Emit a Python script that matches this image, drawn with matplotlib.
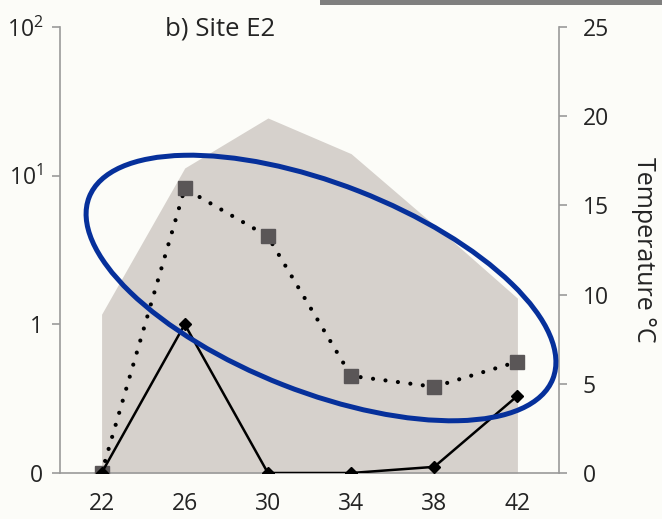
import numpy as np
import matplotlib
matplotlib.use("Agg")
import matplotlib.pyplot as plt
from matplotlib.patches import Ellipse, Rectangle
from matplotlib.ticker import FixedLocator, FixedFormatter

plt.rcParams["font.family"] = ["Open Sans", "DejaVu Sans"]
plt.rcParams["mathtext.fontset"] = "custom"
plt.rcParams["mathtext.rm"] = "Open Sans"
plt.rcParams["mathtext.it"] = "Open Sans"

# Sampling depths and measurements
depth = [22, 26, 30, 34, 38, 42]
temperature = [8.9, 17.1, 19.9, 17.9, 13.9, 9.8]
abundance_squares = [0, 8.2, 3.9, 0.45, 0.38, 0.56]
abundance_diamonds = [0, 1.0, 0, 0, 0.11, 0.33]

left_ticks = [0, 1, 10, 100]
left_labels = ["0", "1", r"$10^1$", r"$10^2$"]
right_ticks = [0, 5, 10, 15, 20, 25]

BG = "#fcfcf8"
TXT = "#242424"
SPINE = "#9a9a9a"

fig = plt.figure(figsize=(6.62, 5.19), dpi=100, facecolor=BG)
ax = fig.add_axes([60 / 662, 46 / 519, 499 / 662, 446 / 519])
ax2 = ax.twinx()
ax.set_zorder(2)
ax.patch.set_visible(False)
ax2.set_zorder(1)
ax2.patch.set_facecolor(BG)

# Temperature profile as a shaded area on the right axis
ax2.fill_between(depth, 0, temperature, color="#d6d1cc", lw=0)
ax2.set_ylim(0, 25)
ax2.set_yticks(right_ticks)
ax2.set_ylabel("Temperature °C", rotation=270, fontsize=18, color=TXT, labelpad=34)

# Abundances on a log axis where the bottom decade stands for zero
fwd = lambda v: np.log10(np.clip(v, 0.1, None))
inv = lambda v: 10.0 ** v
ax.set_yscale("function", functions=(fwd, inv))
ax.set_ylim(0, 100)
ax.set_xlim(20, 44)

ax.plot(depth, abundance_squares, color="black", lw=3.0,
        linestyle=(0, (0.01, 3.0)), dash_capstyle="round", zorder=3)
ax.plot(depth, abundance_squares, linestyle="none", marker="s", ms=9.5,
        color="#5a5657", zorder=4)
ax.plot(depth, abundance_diamonds, color="black", lw=1.8, marker="D", ms=6,
        zorder=5)

ax.yaxis.set_major_locator(FixedLocator(left_ticks))
ax.yaxis.set_major_formatter(FixedFormatter(left_labels))
ax.yaxis.set_minor_locator(FixedLocator([]))
ax.set_xticks(depth)

for a in (ax, ax2):
    for s in a.spines.values():
        s.set_visible(False)
ax.spines["left"].set_visible(True)
ax.spines["left"].set_color(SPINE)
ax.spines["left"].set_linewidth(1.2)
ax.spines["bottom"].set_visible(True)
ax.spines["bottom"].set_color(SPINE)
ax.spines["bottom"].set_linewidth(1.2)
ax2.spines["right"].set_visible(True)
ax2.spines["right"].set_color(SPINE)
ax2.spines["right"].set_linewidth(1.2)

ax.tick_params(axis="y", length=6, width=1.2, color=SPINE, labelsize=16.5,
               labelcolor=TXT, pad=6)
ax.tick_params(axis="x", length=0, labelsize=16.5, labelcolor=TXT, pad=14)
ax2.tick_params(axis="y", length=6, width=1.2, color=SPINE, labelsize=16.5,
                labelcolor=TXT, pad=11)

ax.text(0.21, 0.98, "b) Site E2", transform=ax.transAxes, fontsize=18.5,
        color=TXT, ha="left", va="baseline")

# Highlight ring around the dotted series
fig.add_artist(Ellipse((321, 231), 498, 208, angle=-21.4, fill=False,
                       edgecolor="#06309b", lw=3.6, transform=None,
                       clip_on=False, zorder=10))

# Bar along the top edge
fig.add_artist(Rectangle((320 / 662, 1 - 4.5 / 519), 1, 0.05,
                         transform=fig.transFigure, color="#7f7f7f",
                         lw=0, zorder=10))

fig.savefig("out.png", dpi=100, facecolor=BG)
